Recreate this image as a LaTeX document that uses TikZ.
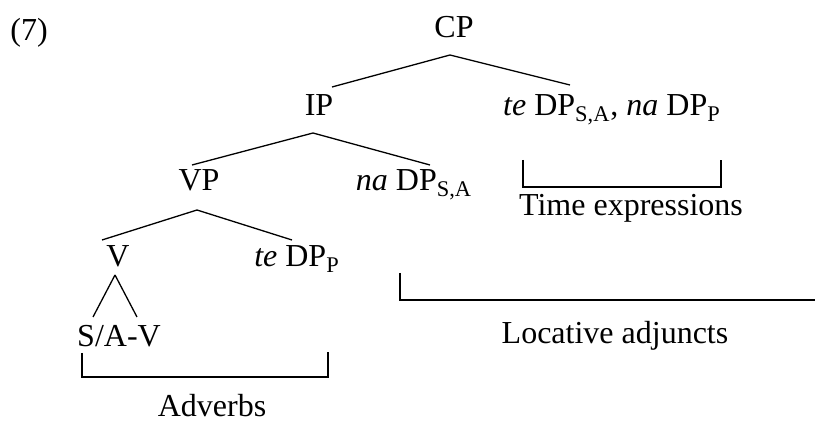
\documentclass[tikz,border=0pt]{standalone}
\usepackage{fontspec}
\setmainfont{Liberation Serif}
\newcommand{\lsub}[1]{\textsubscript{#1}}

\begin{document}
\begin{tikzpicture}[x=0.5pt, y=-0.5pt,
	every node/.style={inner sep=0pt, anchor=base,
		font=\fontsize{16}{19}\selectfont},
	branch/.style={line width=0.65pt},
	bracket/.style={line width=0.65pt}]
\useasboundingbox (0,0) rectangle (815,421);

% labels of the tree
\node (ex) at (29,41) {(7)};
\node (cp) at (454,38) {CP};
\node (ip) at (319,116) {IP};
\node (tedpsa) at (612,116) {\textit{te} DP\lsub{S,A}, \textit{na} DP\lsub{P}};
\node (vp) at (199,191) {VP};
\node (nadp) at (414,191) {\textit{na} DP\lsub{S,A}};
\node (v) at (118,267) {V};
\node (tedpp) at (297,267) {\textit{te} DP\lsub{P}};
\node (sav) at (119,347) {S/A-V};

% names under the brackets
\node (time) at (631,216) {Time expressions};
\node (locative) at (615,344) {Locative adjuncts};
\node (adverbs) at (212,417) {Adverbs};

% branches
\draw[branch] ([shift={(-4,17)}]cp.base) -- ([shift={(13,-29)}]ip.base);
\draw[branch] ([shift={(-4,17)}]cp.base) -- ([shift={(-42,-31)}]tedpsa.base);

\draw[branch] ([shift={(-6,17)}]ip.base) -- ([shift={(-7,-26)}]vp.base);
\draw[branch] ([shift={(-6,17)}]ip.base) -- ([shift={(16,-26)}]nadp.base);

\draw[branch] ([shift={(-2,19)}]vp.base) -- ([shift={(-16,-27)}]v.base);
\draw[branch] ([shift={(-2,19)}]vp.base) -- ([shift={(-5,-27)}]tedpp.base);

\draw[branch] ([shift={(-3,8)}]v.base) -- ([shift={(-26,-30)}]sav.base);
\draw[branch] ([shift={(-3,8)}]v.base) -- ([shift={(18,-30)}]sav.base);

% brackets
\draw[bracket] (523,160) -- (523,187) -- (721,187) -- (721,160);
\draw[bracket] (400,273) -- (400,300) -- (815,300);
\draw[bracket] (82,353) -- (82,377) -- (328,377) -- (328,352);

\end{tikzpicture}
\end{document}
